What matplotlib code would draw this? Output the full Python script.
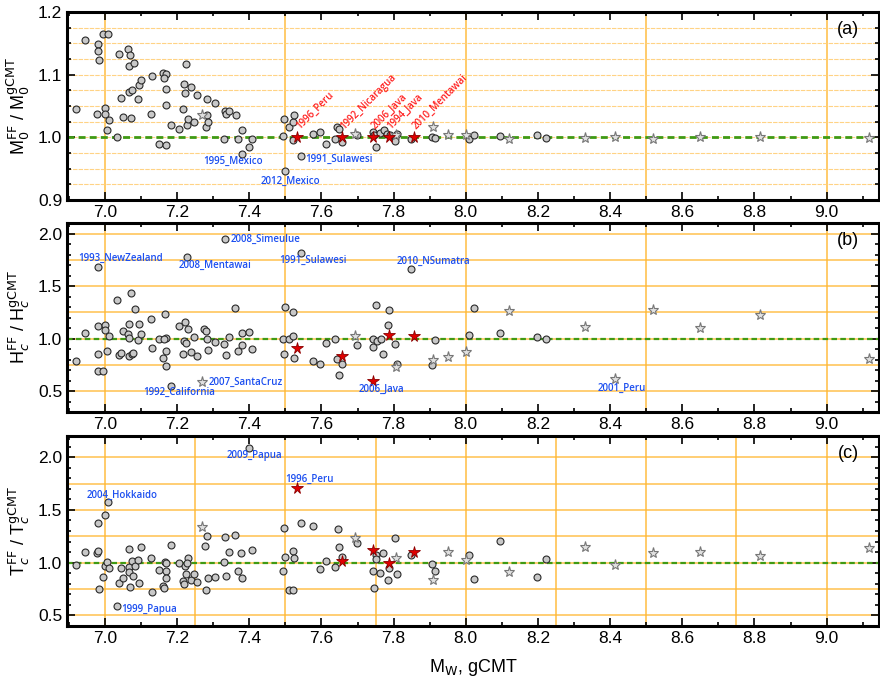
import matplotlib
matplotlib.use("Agg")
import matplotlib.pyplot as plt
from matplotlib.ticker import MultipleLocator

plt.rcParams['font.family'] = ['Liberation Sans', 'DejaVu Sans']

# ---------------- data ----------------
# red stars (named events), shared x
red_x = [7.533, 7.656, 7.744, 7.787, 7.856]
red_names = ['1996_Peru', '1992_Nicaragua', '2006_Java', '1994_Java', '2010_Mentawai']
red_y_a = [1.0, 1.0, 1.0, 1.0, 1.0]
red_y_b = [0.908, 0.835, 0.598, 1.032, 1.028]
red_y_c = [1.704, 1.013, 1.123, 1.0, 1.097]

# grey stars, shared x
gstar_x = [7.268, 7.692, 7.806, 7.910, 7.950, 8.0, 8.119, 8.330, 8.414, 8.518, 8.648, 8.814, 9.118]
gstar_y_a = [1.036, 1.005, 1.003, 1.017, 1.003, 1.003, 0.997, 0.999, 1.0, 0.998, 1.0, 1.001, 0.999]
gstar_y_b = [0.582, 1.022, 0.731, 0.797, 0.826, 0.867, 1.259, 1.114, 0.611, 1.269, 1.098, 1.222, 0.807]
gstar_y_c = [1.336, 1.233, 1.047, 0.840, 1.104, 1.022, 0.912, 1.151, 0.978, 1.094, 1.101, 1.063, 1.138]

# circles, panel (a)
circ_x_a = [6.919, 6.946, 6.982, 6.981, 6.984, 6.994, 7.009, 6.979, 7.001, 6.999, 7.010, 7.005, 7.034,
            7.038, 7.045, 7.050, 7.064, 7.069, 7.068, 7.068, 7.076, 7.071, 7.081, 7.091, 7.094, 7.099,
            7.127, 7.131, 7.150, 7.162, 7.170, 7.163, 7.168, 7.169, 7.169, 7.184, 7.206, 7.216, 7.219,
            7.222, 7.225, 7.227, 7.231, 7.239, 7.247, 7.255, 7.282, 7.282, 7.279, 7.286, 7.304, 7.329,
            7.333, 7.336, 7.344, 7.362, 7.369, 7.379, 7.379, 7.400, 7.409, 7.494, 7.497, 7.500, 7.510,
            7.520, 7.525, 7.522, 7.544, 7.577, 7.595, 7.613, 7.638, 7.644, 7.649, 7.656, 7.699, 7.742,
            7.745, 7.752, 7.763, 7.773, 7.782, 7.790, 7.804, 7.810, 7.847, 7.906, 7.914, 8.009, 8.023,
            8.096, 8.196, 8.221]
circ_y_a = [1.045, 1.155, 1.149, 1.138, 1.123, 1.165, 1.165, 1.038, 1.047, 1.038, 1.028, 1.011, 1.000,
            1.133, 1.063, 1.032, 1.141, 1.131, 1.114, 1.072, 1.076, 1.031, 1.118, 1.061, 1.083, 1.092,
            1.037, 1.098, 0.989, 1.103, 1.101, 1.094, 1.077, 1.051, 0.987, 1.020, 1.013, 1.046, 1.085,
            1.071, 1.117, 1.019, 1.030, 1.081, 1.025, 1.068, 1.061, 1.035, 1.017, 1.025, 1.055, 0.998,
            1.042, 1.037, 1.042, 1.035, 0.998, 1.011, 0.974, 0.984, 0.997, 1.002, 1.030, 0.947, 1.016,
            1.024, 1.035, 0.996, 0.970, 1.006, 1.008, 0.989, 0.997, 1.017, 1.014, 0.993, 1.003, 1.009,
            1.004, 0.984, 1.007, 1.012, 1.006, 1.003, 0.994, 1.006, 0.998, 1.001, 0.999, 0.998, 1.004,
            1.002, 1.003, 0.999]

# circles, panel (b)
circ_x_b = [6.919, 6.945, 6.982, 6.981, 6.980, 6.982, 6.994, 7.001, 7.001, 7.010, 7.007, 7.034, 7.039,
            7.044, 7.050, 7.064, 7.066, 7.068, 7.066, 7.071, 7.076, 7.079, 7.083, 7.092, 7.095, 7.101,
            7.127, 7.131, 7.151, 7.162, 7.166, 7.169, 7.169, 7.170, 7.163, 7.184, 7.205, 7.216, 7.222,
            7.218, 7.225, 7.227, 7.231, 7.239, 7.246, 7.254, 7.276, 7.281, 7.282, 7.285, 7.304, 7.329,
            7.333, 7.336, 7.344, 7.361, 7.369, 7.379, 7.379, 7.400, 7.409, 7.494, 7.500, 7.497, 7.510,
            7.520, 7.522, 7.525, 7.544, 7.577, 7.595, 7.613, 7.638, 7.644, 7.649, 7.657, 7.699, 7.742,
            7.744, 7.752, 7.754, 7.764, 7.772, 7.784, 7.786, 7.804, 7.810, 7.849, 7.914, 7.906, 8.008,
            8.023, 8.096, 8.196, 8.221]
circ_y_b = [0.788, 1.051, 1.117, 0.854, 1.684, 0.687, 0.690, 1.130, 1.079, 1.022, 0.883, 1.364, 0.842,
            0.864, 1.073, 1.047, 1.139, 1.003, 0.829, 1.430, 0.854, 0.864, 1.285, 0.981, 1.136, 1.047,
            1.190, 0.905, 0.991, 0.816, 1.237, 0.877, 1.006, 0.737, 1.000, 0.551, 1.117, 0.851, 1.158,
            0.975, 0.959, 1.772, 1.089, 0.867, 1.013, 0.829, 1.095, 1.073, 1.000, 0.886, 0.962, 0.946,
            1.949, 0.842, 1.019, 1.288, 0.877, 0.937, 1.057, 1.066, 0.896, 0.991, 1.297, 0.854, 0.991,
            1.022, 1.253, 0.810, 1.816, 0.788, 0.753, 0.956, 0.994, 0.801, 0.652, 0.756, 0.937, 0.915,
            0.997, 1.323, 0.978, 0.997, 0.854, 1.133, 1.272, 0.949, 0.756, 1.658, 0.987, 0.747, 1.032,
            1.291, 1.051, 1.019, 0.994]

# circles, panel (c)
circ_x_c = [6.919, 6.945, 6.982, 6.979, 6.982, 6.984, 6.994, 7.001, 7.001, 7.005, 7.008, 7.010, 7.034,
            7.038, 7.044, 7.050, 7.068, 7.066, 7.066, 7.069, 7.076, 7.077, 7.083, 7.092, 7.095, 7.101,
            7.127, 7.131, 7.151, 7.162, 7.163, 7.167, 7.169, 7.169, 7.169, 7.184, 7.206, 7.216, 7.219,
            7.222, 7.225, 7.230, 7.227, 7.239, 7.247, 7.255, 7.277, 7.282, 7.281, 7.286, 7.304, 7.329,
            7.334, 7.336, 7.344, 7.361, 7.369, 7.378, 7.379, 7.400, 7.409, 7.494, 7.497, 7.500, 7.509,
            7.520, 7.522, 7.525, 7.544, 7.578, 7.595, 7.613, 7.638, 7.645, 7.649, 7.657, 7.699, 7.742,
            7.745, 7.752, 7.751, 7.762, 7.771, 7.784, 7.786, 7.804, 7.810, 7.847, 7.906, 7.914, 8.008,
            8.023, 8.096, 8.196, 8.221]
circ_y_c = [0.975, 1.097, 1.377, 1.091, 1.107, 0.755, 0.862, 1.447, 0.969, 1.006, 1.572, 0.953, 0.591,
            0.811, 0.947, 0.852, 1.132, 0.959, 0.909, 0.774, 1.013, 0.874, 0.972, 1.022, 0.811, 1.151,
            1.041, 0.723, 0.934, 0.780, 0.764, 1.009, 0.925, 0.858, 0.997, 1.170, 0.997, 0.827, 0.802,
            0.965, 0.896, 1.041, 0.997, 0.840, 0.893, 0.821, 1.160, 1.255, 0.739, 0.852, 0.868, 1.006,
            1.239, 0.874, 1.097, 1.264, 0.921, 1.091, 0.858, 2.082, 1.116, 0.921, 1.330, 1.053, 0.745,
            1.113, 0.739, 1.047, 1.377, 1.349, 0.943, 1.013, 0.956, 1.321, 1.151, 1.050, 1.189, 0.918,
            0.764, 1.072, 1.035, 0.903, 1.091, 0.840, 0.950, 1.236, 0.893, 1.075, 0.987, 0.921, 1.069,
            0.846, 1.204, 0.868, 1.035]

# blue annotations per panel
lab_a = ['1995_Mexico', '2012_Mexico', '1991_Sulawesi']
lab_a_x = [7.355, 7.514, 7.648]
lab_a_y = [0.961, 0.930, 0.965]

lab_b = ['1993_NewZealand', '2008_Mentawai', '2008_Simeulue', '1991_Sulawesi', '2010_NSumatra',
         '1992_California', '2007_SantaCruz', '2006_Java', '2001_Peru']
lab_b_x = [7.042, 7.304, 7.446, 7.576, 7.909, 7.206, 7.389, 7.767, 8.433]
lab_b_y = [1.760, 1.696, 1.940, 1.740, 1.730, 0.484, 0.579, 0.513, 0.525]

lab_c = ['2009_Papua', '1996_Peru', '2004_Hokkaido', '1999_Papua']
lab_c_x = [7.414, 7.567, 7.049, 7.122]
lab_c_y = [2.019, 1.792, 1.638, 0.557]

# ---------------- figure ----------------
fig = plt.figure(figsize=(8.8, 6.77), dpi=100)
W, H = 880.0, 677.0
left, right = 67 / W, 879 / W
boxes = [(12, 200), (223, 412), (436, 626)]
axes = []
for top, bot in boxes:
    ax = fig.add_axes([left, 1 - bot / H, right - left, (bot - top) / H])
    axes.append(ax)

ORANGE = '#FFB833'
GREEN = '#3f9a14'
BLUE = '#1c4ff0'
RED = '#ff1f1f'
lab_font = dict(family=['Open Sans', 'DejaVu Sans'], fontweight='semibold', fontsize=7)

panels = [
    dict(ylim=(0.9, 1.2), ymaj=0.1, ymin=0.025, cy=circ_y_a, cx=circ_x_a, gy=gstar_y_a, ry=red_y_a,
         vlines=[7.0, 7.5, 8.0, 8.5, 9.0], hl=[0.9 + 0.025 * i for i in range(13)], tag='(a)',
         ylabel=r'M$_0^{\rm FF}$ / M$_0^{\rm gCMT}$', labs=(lab_a, lab_a_x, lab_a_y)),
    dict(ylim=(0.3, 2.1), ymaj=0.5, ymin=0.1, cy=circ_y_b, cx=circ_x_b, gy=gstar_y_b, ry=red_y_b,
         vlines=[7.0, 7.5, 8.0, 8.5, 9.0], hl=[0.5 + 0.25 * i for i in range(7)], tag='(b)',
         ylabel=r'H$_c^{\rm FF}$ / H$_c^{\rm gCMT}$', labs=(lab_b, lab_b_x, lab_b_y)),
    dict(ylim=(0.4, 2.2), ymaj=0.5, ymin=0.1, cy=circ_y_c, cx=circ_x_c, gy=gstar_y_c, ry=red_y_c,
         vlines=[7.0 + 0.25 * i for i in range(9)], hl=[0.5 + 0.25 * i for i in range(7)], tag='(c)',
         ylabel=r'T$_c^{\rm FF}$ / T$_c^{\rm gCMT}$', labs=(lab_c, lab_c_x, lab_c_y)),
]

for i, (ax, p) in enumerate(zip(axes, panels)):
    ax.set_xlim(6.895, 9.145)
    ax.set_ylim(*p['ylim'])
    for v in p['vlines']:
        ax.axvline(v, color=ORANGE, lw=1.2, alpha=0.85, zorder=1)
    for h in p['hl']:
        if i == 0:
            ax.axhline(h, color='#FFCF78', lw=0.8, ls=(0, (4, 1)), alpha=0.9, zorder=1)
        else:
            ax.axhline(h, color=ORANGE, lw=1.2, alpha=0.8, zorder=1)
    ax.axhline(1.0, color=GREEN, lw=2.0 if i == 0 else 1.6, ls=(0, (2.5, 1.5)), zorder=2)

    ax.plot(p['cx'], p['cy'], 'o', ms=5, mfc='#c8c8c8', mec='#2a2a2a', mew=0.8, zorder=4, ls='none')
    ax.plot(gstar_x, p['gy'], '*', ms=8, mfc='#e0e0e0', mec='#777777', mew=0.8, zorder=4, ls='none')
    ax.plot(red_x, p['ry'], '*', ms=8.5, mfc='#e00000', mec='#8a0000', mew=0.6, zorder=5, ls='none')

    names, lx, ly = p['labs']
    for n, x, y in zip(names, lx, ly):
        ax.text(x, y, n, color=BLUE, ha='center', va='center', zorder=6, **lab_font)
    if i == 0:
        for n, x, y in zip(red_names, red_x, red_y_a):
            ax.annotate(n, (x, y), xytext=(3, 4), textcoords='offset points', rotation=45,
                        rotation_mode='anchor', ha='left', va='bottom', color=RED, zorder=6, **lab_font)

    ax.xaxis.set_major_locator(MultipleLocator(0.2))
    ax.xaxis.set_minor_locator(MultipleLocator(0.1))
    ax.yaxis.set_major_locator(MultipleLocator(p['ymaj']))
    ax.yaxis.set_minor_locator(MultipleLocator(p['ymin']))
    ax.tick_params(which='both', direction='in', top=True, right=True, labelsize=12.5, width=1.2)
    ax.tick_params(which='major', length=6)
    ax.tick_params(which='minor', length=3)
    ax.xaxis.set_major_formatter(matplotlib.ticker.FormatStrFormatter('%.1f'))
    ax.yaxis.set_major_formatter(matplotlib.ticker.FormatStrFormatter('%.1f'))
    for s in ax.spines.values():
        s.set_linewidth(2.2)
    ax.set_ylabel(p['ylabel'], fontsize=13, labelpad=4)
    ax.text(0.975, 0.95, p['tag'], transform=ax.transAxes, ha='right', va='top', fontsize=13)

axes[2].set_xlabel(r'M$_{\rm W}$, gCMT', fontsize=13, labelpad=8)
fig.savefig('out.png', dpi=100)
